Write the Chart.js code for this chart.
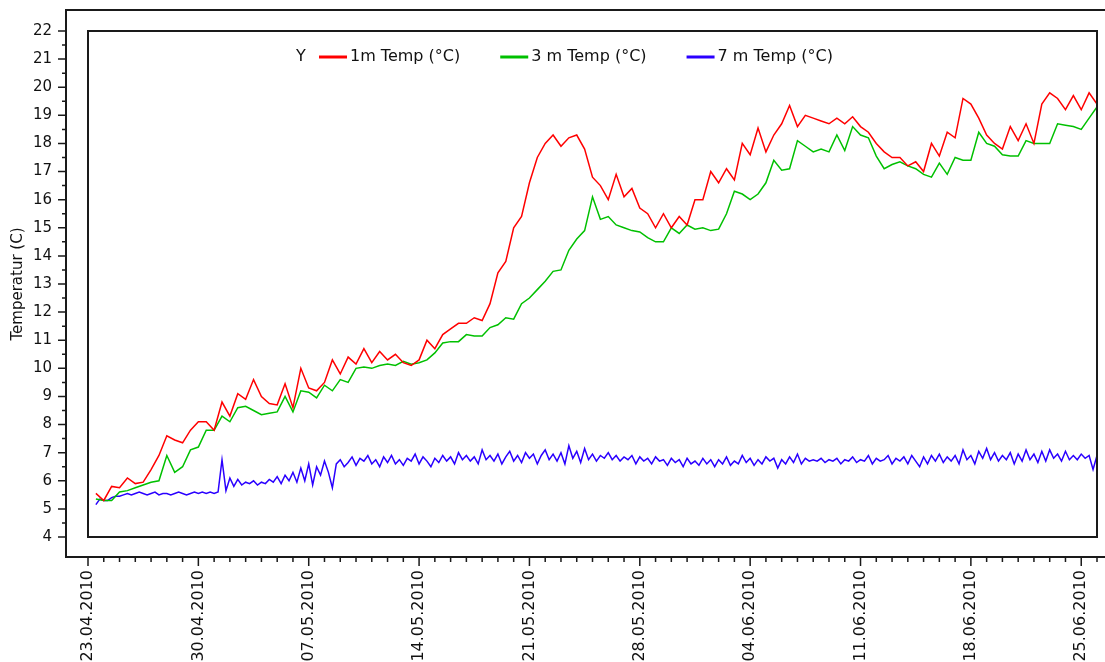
<!DOCTYPE html>
<html>
<head>
<meta charset="utf-8">
<script src="https://cdn.jsdelivr.net/npm/chart.js@4.4.0/dist/chart.umd.min.js"></script>
<style>
  html, body { margin: 0; padding: 0; background: #fff; }
</style>
</head>
<body>
<canvas id="chart" width="1105" height="662"></canvas>
<script>
// x values are days since 23.04.2010 00:00
const weekTicks = [0, 7, 14, 21, 28, 35, 42, 49, 56, 63];
const weekLabels = ['23.04.2010', '30.04.2010', '07.05.2010', '14.05.2010', '21.05.2010',
  '28.05.2010', '04.06.2010', '11.06.2010', '18.06.2010', '25.06.2010'];
const yTicks = [4, 5, 6, 7, 8, 9, 10, 11, 12, 13, 14, 15, 16, 17, 18, 19, 20, 21, 22];
const seriesNames = ['1m Temp (°C)', '3 m Temp (°C)', '7 m Temp (°C)'];
const seriesColors = ['#ff0000', '#00c000', '#2a00ff'];

// 1 m and 3 m: one reading every 12 h, first at day 0.5
const startDay = 0.5;
const step12h = 0.5;
const temp1m = [
  5.55, 5.3, 5.8, 5.75, 6.1, 5.9, 5.95, 6.4, 6.9, 7.6, 7.45, 7.35, 7.8, 8.1,
  8.1, 7.8, 8.8, 8.3, 9.1, 8.9, 9.6, 9.0, 8.75, 8.7, 9.45, 8.6, 10.0, 9.3,
  9.2, 9.5, 10.3, 9.8, 10.4, 10.15, 10.7, 10.2, 10.6, 10.3, 10.5, 10.2, 10.1, 10.3,
  11.0, 10.7, 11.2, 11.4, 11.6, 11.6, 11.8, 11.7, 12.3, 13.4, 13.8, 15.0, 15.4, 16.6,
  17.5, 18.0, 18.3, 17.9, 18.2, 18.3, 17.8, 16.8, 16.5, 16.0, 16.9, 16.1, 16.4, 15.7,
  15.5, 15.0, 15.5, 15.0, 15.4, 15.1, 16.0, 16.0, 17.0, 16.6, 17.1, 16.7, 18.0, 17.6,
  18.55, 17.7, 18.3, 18.7, 19.35, 18.6, 19.0, 18.9, 18.8, 18.7, 18.9, 18.7, 18.95, 18.6,
  18.4, 18.0, 17.7, 17.5, 17.5, 17.2, 17.35, 17.0, 18.0, 17.55, 18.4, 18.2, 19.6, 19.4,
  18.9, 18.3, 18.0, 17.8, 18.6, 18.1, 18.7, 18.0, 19.4, 19.8, 19.6, 19.2, 19.7, 19.2,
  19.8, 19.4
];
const temp3m = [
  5.35, 5.3, 5.3, 5.6, 5.65, 5.75, 5.85, 5.95, 6.0, 6.9, 6.3, 6.5, 7.1, 7.2,
  7.8, 7.8, 8.3, 8.1, 8.6, 8.65, 8.5, 8.35, 8.4, 8.45, 9.0, 8.45, 9.2, 9.15,
  8.95, 9.4, 9.2, 9.6, 9.5, 10.0, 10.05, 10.0, 10.1, 10.15, 10.1, 10.25, 10.15, 10.2,
  10.3, 10.55, 10.9, 10.95, 10.95, 11.2, 11.15, 11.15, 11.45, 11.55, 11.8, 11.75, 12.3, 12.5,
  12.8, 13.1, 13.45, 13.5, 14.2, 14.6, 14.9, 16.1, 15.3, 15.4, 15.1, 15.0, 14.9, 14.85,
  14.65, 14.5, 14.5, 15.0, 14.8, 15.1, 14.95, 15.0, 14.9, 14.95, 15.5, 16.3, 16.2, 16.0,
  16.2, 16.6, 17.4, 17.05, 17.1, 18.1, 17.9, 17.7, 17.8, 17.7, 18.3, 17.75, 18.6, 18.3,
  18.2, 17.55, 17.1, 17.25, 17.35, 17.2, 17.1, 16.9, 16.8, 17.3, 16.9, 17.5, 17.4, 17.4,
  18.4, 18.0, 17.9, 17.6, 17.55, 17.55, 18.1, 18.0, 18.0, 18.0, 18.7, 18.65, 18.6, 18.5,
  18.9, 19.3
];

// 7 m: one reading every 6 h, first at day 0.5
const step6h = 0.25;
const temp7m = [
  5.15, 5.35, 5.3, 5.3, 5.4, 5.45, 5.45, 5.5, 5.55, 5.5, 5.55, 5.6, 5.55, 5.5, 5.55, 5.6,
  5.5, 5.55, 5.55, 5.5, 5.55, 5.6, 5.55, 5.5, 5.55, 5.6, 5.55, 5.6, 5.55, 5.6, 5.55, 5.6,
  6.75, 5.65, 6.1, 5.8, 6.05, 5.85, 5.95, 5.9, 6.0, 5.85, 5.95, 5.9, 6.05, 5.95, 6.15, 5.9,
  6.2, 6.0, 6.3, 5.95, 6.45, 6.0, 6.6, 5.85, 6.5, 6.2, 6.7, 6.3, 5.75, 6.6, 6.75, 6.5,
  6.65, 6.85, 6.55, 6.8, 6.7, 6.9, 6.6, 6.75, 6.5, 6.85, 6.65, 6.9, 6.6, 6.75, 6.55, 6.8,
  6.7, 6.95, 6.6, 6.85, 6.7, 6.5, 6.8, 6.65, 6.9, 6.7, 6.85, 6.6, 7.0, 6.75, 6.9, 6.7,
  6.85, 6.6, 7.1, 6.75, 6.9, 6.7, 6.95, 6.6, 6.85, 7.05, 6.7, 6.9, 6.65, 7.0, 6.8, 6.95,
  6.6, 6.9, 7.1, 6.75, 6.95, 6.7, 7.0, 6.6, 7.25, 6.8, 7.05, 6.65, 7.15, 6.75, 6.95, 6.7,
  6.9, 6.8, 7.0, 6.75, 6.9, 6.7, 6.85, 6.75, 6.9, 6.6, 6.85, 6.7, 6.8, 6.6, 6.85, 6.7,
  6.75, 6.55, 6.8, 6.65, 6.75, 6.5, 6.8, 6.6, 6.7, 6.55, 6.8, 6.6, 6.75, 6.5, 6.75, 6.6,
  6.85, 6.55, 6.7, 6.6, 6.9, 6.65, 6.8, 6.55, 6.75, 6.6, 6.85, 6.7, 6.8, 6.45, 6.75, 6.6,
  6.85, 6.65, 6.95, 6.6, 6.8, 6.7, 6.75, 6.7, 6.8, 6.65, 6.75, 6.7, 6.8, 6.6, 6.75, 6.7,
  6.85, 6.65, 6.75, 6.7, 6.9, 6.6, 6.8, 6.7, 6.75, 6.9, 6.6, 6.8, 6.7, 6.85, 6.6, 6.9,
  6.7, 6.5, 6.85, 6.6, 6.9, 6.7, 6.95, 6.65, 6.85, 6.7, 6.9, 6.6, 7.1, 6.75, 6.9, 6.6,
  7.05, 6.8, 7.15, 6.75, 7.0, 6.7, 6.9, 6.75, 7.0, 6.6, 6.95, 6.7, 7.1, 6.75, 6.95, 6.65,
  7.05, 6.7, 7.1, 6.8, 6.95, 6.7, 7.05, 6.75, 6.9, 6.75, 6.95, 6.8, 6.9, 6.4, 6.9
];

const toPoints = (vals, step) => vals.map((v, i) => ({ x: startDay + i * step, y: v }));

const FONT = '"DejaVu Sans", sans-serif';
const INK = '#111';

// outer offset axes, inner frame and the in-plot legend
const frameAndLegend = {
  id: 'frameAndLegend',
  afterDraw(chart) {
    const { ctx, chartArea: a, scales: { x, y } } = chart;
    const axX = a.left - 22;
    const axY = a.bottom + 20;
    const topY = a.top - 21;
    ctx.save();
    ctx.strokeStyle = '#1a1a1a';
    ctx.lineWidth = 2;
    ctx.strokeRect(a.left, a.top, a.right - a.left, a.bottom - a.top);
    ctx.beginPath();
    ctx.moveTo(chart.width, topY);
    ctx.lineTo(axX, topY);
    ctx.lineTo(axX, axY);
    ctx.lineTo(chart.width, axY);
    ctx.stroke();

    ctx.lineWidth = 1.5;
    ctx.beginPath();
    for (let v = y.min; v <= y.max; v += 0.5) {
      const py = y.getPixelForValue(v);
      const len = Number.isInteger(v) ? 8 : 4;
      ctx.moveTo(axX - len, py);
      ctx.lineTo(axX, py);
    }
    for (let d = x.min; d <= x.max; d++) {
      const px = x.getPixelForValue(d);
      const len = weekTicks.includes(d) ? 9 : 5;
      ctx.moveTo(px, axY);
      ctx.lineTo(px, axY + len);
    }
    ctx.stroke();

    // legend
    ctx.font = '16px ' + FONT;
    ctx.fillStyle = INK;
    ctx.textBaseline = 'middle';
    const ly = a.top + 26;
    ctx.fillText('Y', 296, ly);
    let lx = 319;
    chart.data.datasets.forEach((ds) => {
      ctx.strokeStyle = ds.borderColor;
      ctx.lineWidth = 3;
      ctx.beginPath();
      ctx.moveTo(lx, ly);
      ctx.lineTo(lx + 28, ly);
      ctx.stroke();
      ctx.fillStyle = INK;
      ctx.fillText(ds.label, lx + 31, ly);
      lx += 31 + ctx.measureText(ds.label).width + 40;
    });
    ctx.restore();
  }
};

new Chart(document.getElementById('chart'), {
  type: 'line',
  data: {
    datasets: [
      { label: seriesNames[0], data: toPoints(temp1m, step12h), borderColor: seriesColors[0] },
      { label: seriesNames[1], data: toPoints(temp3m, step12h), borderColor: seriesColors[1] },
      { label: seriesNames[2], data: toPoints(temp7m, step6h), borderColor: seriesColors[2] }
    ]
  },
  options: {
    responsive: false,
    animation: false,
    events: [],
    layout: { padding: { top: 31, right: 8, left: 0, bottom: 0 } },
    elements: {
      line: { borderWidth: 1.5, tension: 0 },
      point: { radius: 0 }
    },
    plugins: { legend: { display: false }, tooltip: { enabled: false } },
    scales: {
      x: {
        type: 'linear',
        min: 0,
        max: 64,
        grid: { display: false, drawTicks: false },
        border: { display: false },
        afterBuildTicks: (s) => { s.ticks = weekTicks.map((v) => ({ value: v })); },
        afterFit: (s) => { s.height = 125; s.paddingLeft = 0; s.paddingRight = 0; },
        ticks: {
          autoSkip: false,
          minRotation: 90,
          maxRotation: 90,
          padding: 33,
          color: INK,
          font: { family: FONT, size: 16 },
          callback: (v) => weekLabels[weekTicks.indexOf(v)] ?? ''
        }
      },
      y: {
        min: 4,
        max: 22,
        grid: { display: false, drawTicks: false },
        border: { display: false },
        afterBuildTicks: (s) => { s.ticks = yTicks.map((v) => ({ value: v })); },
        afterFit: (s) => { s.width = 88; s.paddingTop = 0; s.paddingBottom = 0; },
        ticks: {
          padding: 36,
          color: INK,
          font: { family: FONT, size: 15 }
        },
        title: {
          display: true,
          text: 'Temperatur (C)',
          color: INK,
          padding: { top: 9, bottom: 0 },
          font: { family: FONT, size: 15 }
        }
      }
    }
  },
  plugins: [frameAndLegend]
});
</script>
</body>
</html>
